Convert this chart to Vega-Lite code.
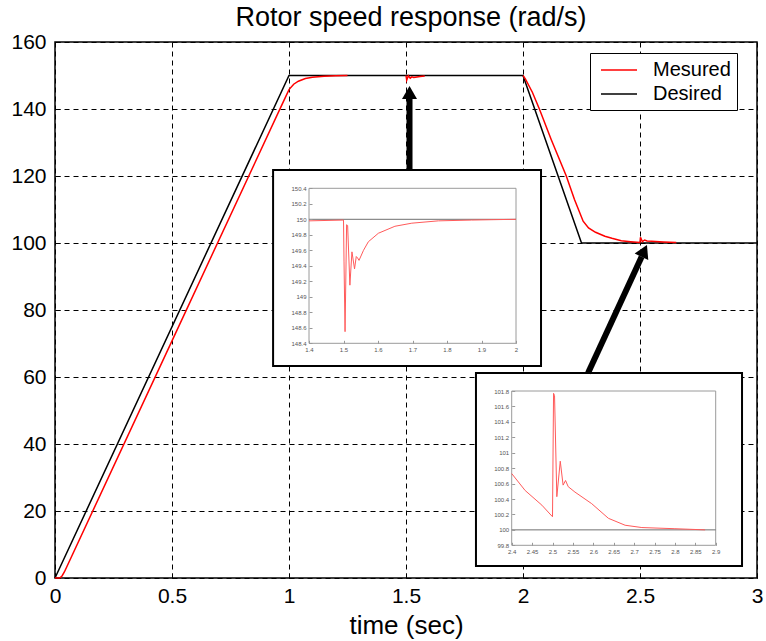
{
"$schema":"https://vega.github.io/schema/vega-lite/v6.json",
"width":702,"height":536,
"autosize":"none",
"padding":{"left":55,"top":42,"right":9,"bottom":63},
"background":"white",
"config":{"view":{"stroke":"black","strokeWidth":1.5},"font":"Liberation Sans"},
"title":{"text":"Rotor speed response (rad/s)","fontSize":27,"fontWeight":"normal","color":"black","offset":-1,"anchor":"middle","frame":"group","dx":5,"font":"Liberation Sans"},
"datasets":{
"main":[
{"series":"Desired","seg":"d","t":0,"v":0},
{"series":"Desired","seg":"d","t":1,"v":150},
{"series":"Desired","seg":"d","t":2,"v":150},
{"series":"Desired","seg":"d","t":2.25,"v":100},
{"series":"Desired","seg":"d","t":3,"v":100},
{"series":"Mesured","seg":"a","t":0,"v":0},
{"series":"Mesured","seg":"a","t":0.02,"v":0},
{"series":"Mesured","seg":"a","t":0.03,"v":0.6},
{"series":"Mesured","seg":"a","t":0.04,"v":1.8},
{"series":"Mesured","seg":"a","t":0.05,"v":3.3},
{"series":"Mesured","seg":"a","t":0.5,"v":70.8},
{"series":"Mesured","seg":"a","t":0.96,"v":139.8},
{"series":"Mesured","seg":"a","t":0.98,"v":142.8},
{"series":"Mesured","seg":"a","t":1.0,"v":145.8},
{"series":"Mesured","seg":"a","t":1.02,"v":147.4},
{"series":"Mesured","seg":"a","t":1.04,"v":148.3},
{"series":"Mesured","seg":"a","t":1.07,"v":149.1},
{"series":"Mesured","seg":"a","t":1.1,"v":149.5},
{"series":"Mesured","seg":"a","t":1.15,"v":149.8},
{"series":"Mesured","seg":"a","t":1.2,"v":149.95},
{"series":"Mesured","seg":"a","t":1.25,"v":150},
{"series":"Mesured","seg":"b","t":1.5,"v":150},
{"series":"Mesured","seg":"b","t":1.503,"v":148.6},
{"series":"Mesured","seg":"b","t":1.51,"v":149.9},
{"series":"Mesured","seg":"b","t":1.518,"v":149.2},
{"series":"Mesured","seg":"b","t":1.525,"v":149.6},
{"series":"Mesured","seg":"b","t":1.533,"v":149.4},
{"series":"Mesured","seg":"b","t":1.54,"v":149.5},
{"series":"Mesured","seg":"b","t":1.56,"v":149.7},
{"series":"Mesured","seg":"b","t":1.58,"v":149.85},
{"series":"Mesured","seg":"c","t":2.0,"v":150},
{"series":"Mesured","seg":"c","t":2.01,"v":149},
{"series":"Mesured","seg":"c","t":2.04,"v":145},
{"series":"Mesured","seg":"c","t":2.07,"v":140},
{"series":"Mesured","seg":"c","t":2.12,"v":131},
{"series":"Mesured","seg":"c","t":2.185,"v":120},
{"series":"Mesured","seg":"c","t":2.22,"v":113},
{"series":"Mesured","seg":"c","t":2.257,"v":106.5},
{"series":"Mesured","seg":"c","t":2.28,"v":104.5},
{"series":"Mesured","seg":"c","t":2.31,"v":103.2},
{"series":"Mesured","seg":"c","t":2.35,"v":102},
{"series":"Mesured","seg":"c","t":2.38,"v":101.4},
{"series":"Mesured","seg":"c","t":2.42,"v":100.7},
{"series":"Mesured","seg":"c","t":2.46,"v":100.4},
{"series":"Mesured","seg":"c","t":2.5,"v":100.15},
{"series":"Mesured","seg":"c","t":2.502,"v":101.7},
{"series":"Mesured","seg":"c","t":2.51,"v":100.4},
{"series":"Mesured","seg":"c","t":2.52,"v":100.9},
{"series":"Mesured","seg":"c","t":2.53,"v":100.6},
{"series":"Mesured","seg":"c","t":2.55,"v":100.5},
{"series":"Mesured","seg":"c","t":2.6,"v":100.3},
{"series":"Mesured","seg":"c","t":2.655,"v":100.15}
],
"boxes":[{"t":0.932,"t2":2.077,"v":63.3,"v2":121.8},{"t":1.799,"t2":2.936,"v":3.6,"v2":61.2}],
"shafts":[{"t":1.515,"t2":1.515,"v":121.8,"v2":143.2},{"t":2.278,"t2":2.507,"v":61.2,"v2":95.9}],
"heads":[{"id":1,"t":1.515,"v":144.96},{"id":2,"t":2.518,"v":97.64}],
"inset1":[
{"s":"ref","t":1.4,"v":150},{"s":"ref","t":2.0,"v":150},
{"s":"meas","t":1.4,"v":149.98},{"s":"meas","t":1.5,"v":149.99},{"s":"meas","t":1.5015,"v":149.45},{"s":"meas","t":1.5045,"v":148.55},{"s":"meas","t":1.509,"v":149.93},{"s":"meas","t":1.512,"v":149.92},{"s":"meas","t":1.5185,"v":149.15},{"s":"meas","t":1.5245,"v":149.58},{"s":"meas","t":1.532,"v":149.36},{"s":"meas","t":1.537,"v":149.52},{"s":"meas","t":1.541,"v":149.5},{"s":"meas","t":1.545,"v":149.47},{"s":"meas","t":1.558,"v":149.6},{"s":"meas","t":1.572,"v":149.71},{"s":"meas","t":1.601,"v":149.82},{"s":"meas","t":1.649,"v":149.91},{"s":"meas","t":1.698,"v":149.95},{"s":"meas","t":1.775,"v":149.98},{"s":"meas","t":1.871,"v":149.99},{"s":"meas","t":2.0,"v":150.0}
],
"inset2":[
{"s":"ref","t":2.4,"v":100},{"s":"ref","t":2.9,"v":100},
{"s":"meas","t":2.4,"v":100.73},{"s":"meas","t":2.433,"v":100.51},{"s":"meas","t":2.474,"v":100.32},{"s":"meas","t":2.5,"v":100.17},{"s":"meas","t":2.5026,"v":101.77},{"s":"meas","t":2.505,"v":101.74},{"s":"meas","t":2.5106,"v":100.43},{"s":"meas","t":2.519,"v":100.89},{"s":"meas","t":2.526,"v":100.58},{"s":"meas","t":2.532,"v":100.64},{"s":"meas","t":2.5385,"v":100.56},{"s":"meas","t":2.555,"v":100.49},{"s":"meas","t":2.596,"v":100.34},{"s":"meas","t":2.637,"v":100.15},{"s":"meas","t":2.678,"v":100.06},{"s":"meas","t":2.719,"v":100.03},{"s":"meas","t":2.8,"v":100.015},{"s":"meas","t":2.874,"v":100.0}
]
},
"layer":[
 {"data":{"name":"main"},"transform":[{"filter":"datum.series=='Desired'"}],
  "mark":{"type":"line","strokeWidth":1.5},
  "encoding":{
   "x":{"field":"t","type":"quantitative","scale":{"domain":[0,3],"nice":false,"zero":false},
        "axis":{"orient":"bottom","values":[0,0.5,1,1.5,2,2.5,3],"format":"~f","grid":true,"gridDash":[5,4],"gridColor":"black","gridOpacity":1,"gridWidth":1,"domain":false,"ticks":true,"tickSize":-5,"tickColor":"black","tickWidth":1,"labelFontSize":21,"labelColor":"black","labelPadding":12,"labelFlush":false,"labelOverlap":false,"title":"time (sec)","titleFontSize":26,"titleFontWeight":"normal","titleColor":"black","titlePadding":6}},
   "y":{"field":"v","type":"quantitative","scale":{"domain":[0,160],"nice":false,"zero":false},
        "axis":{"orient":"left","values":[0,20,40,60,80,100,120,140,160],"format":"~f","grid":true,"gridDash":[5,4],"gridColor":"black","gridOpacity":1,"gridWidth":1,"domain":false,"ticks":true,"tickSize":-5,"tickColor":"black","tickWidth":1,"labelFontSize":21,"labelColor":"black","labelPadding":14,"labelFlush":false,"labelOverlap":false,"title":null}},
   "color":{"field":"series","type":"nominal","scale":{"domain":["Mesured","Desired"],"range":["#ff0000","#000000"]},
     "legend":{"orient":"none","legendX":535,"legendY":11,"title":null,"symbolType":"M-1.8,0H1.8","symbolSize":400,"symbolStrokeWidth":1.5,"symbolOffset":12,"labelFontSize":20,"labelColor":"black","labelOffset":23,"strokeColor":"black","fillColor":"white","padding":6,"rowPadding":3,"cornerRadius":0}}
  }},
 {"data":{"name":"main"},"transform":[{"filter":"datum.series=='Mesured'"}],
  "mark":{"type":"line","strokeWidth":1.5},
  "encoding":{
   "x":{"field":"t","type":"quantitative","scale":{"domain":[0,3],"nice":false,"zero":false},"axis":null},
   "y":{"field":"v","type":"quantitative","scale":{"domain":[0,160],"nice":false,"zero":false},"axis":null},
   "detail":{"field":"seg"},
   "color":{"field":"series","type":"nominal","scale":{"domain":["Mesured","Desired"],"range":["#ff0000","#000000"]},
     "legend":{"orient":"none","legendX":535,"legendY":11,"title":null,"symbolType":"M-1.8,0H1.8","symbolSize":400,"symbolStrokeWidth":1.5,"symbolOffset":12,"labelFontSize":20,"labelColor":"black","labelOffset":23,"strokeColor":"black","fillColor":"white","padding":6,"rowPadding":3,"cornerRadius":0}}
  }},
 {"data":{"name":"boxes"},
  "mark":{"type":"rect","fill":"white","stroke":"black","strokeWidth":2},
  "encoding":{
   "x":{"field":"t","type":"quantitative","scale":{"domain":[0,3],"nice":false,"zero":false},"axis":null},
   "x2":{"field":"t2"},
   "y":{"field":"v","type":"quantitative","scale":{"domain":[0,160],"nice":false,"zero":false},"axis":null},
   "y2":{"field":"v2"}
  }},
 {"data":{"name":"shafts"},
  "mark":{"type":"rule","color":"black","strokeWidth":6,"strokeCap":"butt"},
  "encoding":{
   "x":{"field":"t","type":"quantitative","scale":{"domain":[0,3],"nice":false,"zero":false},"axis":null},
   "x2":{"field":"t2"},
   "y":{"field":"v","type":"quantitative","scale":{"domain":[0,160],"nice":false,"zero":false},"axis":null},
   "y2":{"field":"v2"}
  }},
 {"data":{"name":"heads"},"transform":[{"filter":"datum.id==1"}],
  "mark":{"type":"point","shape":"triangle-up","filled":true,"color":"black","size":225,"opacity":1,"angle":0},
  "encoding":{
   "x":{"field":"t","type":"quantitative","scale":{"domain":[0,3],"nice":false,"zero":false},"axis":null},
   "y":{"field":"v","type":"quantitative","scale":{"domain":[0,160],"nice":false,"zero":false},"axis":null}
  }},
 {"data":{"name":"heads"},"transform":[{"filter":"datum.id==2"}],
  "mark":{"type":"point","shape":"triangle-up","filled":true,"color":"black","size":225,"opacity":1,"angle":25},
  "encoding":{
   "x":{"field":"t","type":"quantitative","scale":{"domain":[0,3],"nice":false,"zero":false},"axis":null},
   "y":{"field":"v","type":"quantitative","scale":{"domain":[0,160],"nice":false,"zero":false},"axis":null}
  }},
 {"data":{"values":[{"t":1.4,"t2":2,"v":148.4,"v2":150.4}]},
  "mark":{"type":"rect","fill":"white","fillOpacity":0,"stroke":"#9a9a9a","strokeWidth":1},
  "encoding":{
   "x":{"field":"t","type":"quantitative","scale":{"domain":[1.4,2],"range":[254,461],"nice":false,"zero":false},"axis":null},
   "x2":{"field":"t2"},
   "y":{"field":"v","type":"quantitative","scale":{"domain":[148.4,150.4],"range":[301.3,146.3],"nice":false,"zero":false},"axis":null},
   "y2":{"field":"v2"}
  }},
 {"data":{"name":"inset1"},"transform":[{"filter":"datum.s=='ref'"}],
  "mark":{"type":"line","color":"#707070","strokeWidth":1},
  "encoding":{
   "x":{"field":"t","type":"quantitative","scale":{"domain":[1.4,2],"range":[254,461],"nice":false,"zero":false},"axis":null},
   "y":{"field":"v","type":"quantitative","scale":{"domain":[148.4,150.4],"range":[301.3,146.3],"nice":false,"zero":false},"axis":null}
  }},
 {"data":{"name":"inset1"},"transform":[{"filter":"datum.s=='meas'"}],
  "mark":{"type":"line","color":"#ff5a5a","strokeWidth":1},
  "encoding":{
   "x":{"field":"t","type":"quantitative","scale":{"domain":[1.4,2],"range":[254,461],"nice":false,"zero":false},
        "axis":{"orient":"bottom","offset":-234.7,"values":[1.4,1.5,1.6,1.7,1.8,1.9,2],"format":"~f","grid":false,"domain":false,"ticks":true,"tickSize":-3,"tickColor":"#999","labelFontSize":6,"labelColor":"#555","labelPadding":6,"labelFlush":false,"labelOverlap":false,"title":null,"zindex":2}},
   "y":{"field":"v","type":"quantitative","scale":{"domain":[148.4,150.4],"range":[301.3,146.3],"nice":false,"zero":false},
        "axis":{"orient":"left","offset":-254,"values":[148.4,148.6,148.8,149,149.2,149.4,149.6,149.8,150,150.2,150.4],"format":"~f","grid":false,"domain":false,"ticks":true,"tickSize":-3,"tickColor":"#999","labelFontSize":6,"labelColor":"#555","labelPadding":6,"labelFlush":false,"labelOverlap":false,"title":null,"zindex":2}}
  }},
 {"data":{"values":[{"t":2.4,"t2":2.9,"v":99.8,"v2":101.8}]},
  "mark":{"type":"rect","fill":"white","fillOpacity":0,"stroke":"#9a9a9a","strokeWidth":1},
  "encoding":{
   "x":{"field":"t","type":"quantitative","scale":{"domain":[2.4,2.9],"range":[456.7,660.7],"nice":false,"zero":false},"axis":null},
   "x2":{"field":"t2"},
   "y":{"field":"v","type":"quantitative","scale":{"domain":[99.8,101.8],"range":[503.3,349],"nice":false,"zero":false},"axis":null},
   "y2":{"field":"v2"}
  }},
 {"data":{"name":"inset2"},"transform":[{"filter":"datum.s=='ref'"}],
  "mark":{"type":"line","color":"#707070","strokeWidth":1},
  "encoding":{
   "x":{"field":"t","type":"quantitative","scale":{"domain":[2.4,2.9],"range":[456.7,660.7],"nice":false,"zero":false},"axis":null},
   "y":{"field":"v","type":"quantitative","scale":{"domain":[99.8,101.8],"range":[503.3,349],"nice":false,"zero":false},"axis":null}
  }},
 {"data":{"name":"inset2"},"transform":[{"filter":"datum.s=='meas'"}],
  "mark":{"type":"line","color":"#ff5a5a","strokeWidth":1},
  "encoding":{
   "x":{"field":"t","type":"quantitative","scale":{"domain":[2.4,2.9],"range":[456.7,660.7],"nice":false,"zero":false},
        "axis":{"orient":"bottom","offset":-32.7,"values":[2.4,2.45,2.5,2.55,2.6,2.65,2.7,2.75,2.8,2.85,2.9],"format":"~f","grid":false,"domain":false,"ticks":true,"tickSize":-3,"tickColor":"#999","labelFontSize":6,"labelColor":"#555","labelPadding":6,"labelFlush":false,"labelOverlap":false,"title":null,"zindex":2}},
   "y":{"field":"v","type":"quantitative","scale":{"domain":[99.8,101.8],"range":[503.3,349],"nice":false,"zero":false},
        "axis":{"orient":"left","offset":-456.7,"values":[99.8,100,100.2,100.4,100.6,100.8,101,101.2,101.4,101.6,101.8],"format":"~f","grid":false,"domain":false,"ticks":true,"tickSize":-3,"tickColor":"#999","labelFontSize":6,"labelColor":"#555","labelPadding":6,"labelFlush":false,"labelOverlap":false,"title":null,"zindex":2}}
  }}
],
"resolve":{"scale":{"x":"independent","y":"independent","color":"shared"},"axis":{"x":"independent","y":"independent"}}
}
